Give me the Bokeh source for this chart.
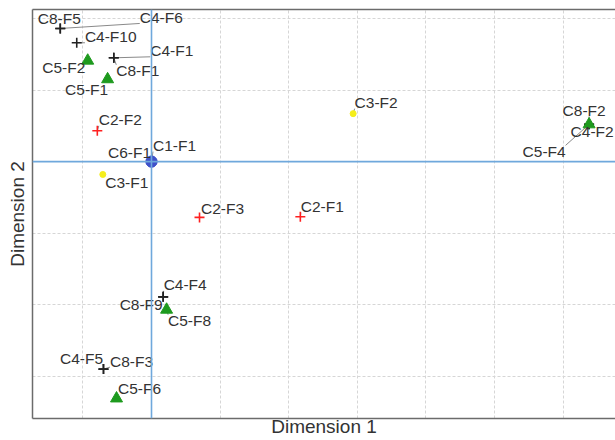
from bokeh.plotting import figure
from bokeh.models import ColumnDataSource, Span, FixedTicker, LinearAxis, Range1d
from bokeh.core.properties import value
from bokeh.embed import file_html
from bokeh.resources import INLINE

# ---- data ----
names = ["C8-F5", "C4-F6", "C4-F10", "C4-F1", "C8-F1", "C5-F2", "C5-F1", "C2-F2",
         "C6-F1", "C1-F1", "C3-F1", "C2-F3", "C2-F1", "C3-F2", "C8-F2", "C4-F2",
         "C5-F4", "C4-F4", "C8-F9", "C5-F8", "C4-F5", "C8-F3", "C5-F6"]
dim1 = [-1.33, -1.33, -1.09, -0.55, -0.55, -0.93, -0.64, -0.79,
        0.0, 0.0, -0.71, 0.70, 2.17, 2.94, 6.38, 6.38,
        6.38, 0.17, 0.17, 0.22, -0.70, -0.70, -0.51]
dim2 = [1.86, 1.86, 1.66, 1.45, 1.45, 1.41, 1.15, 0.43,
        0.0, 0.0, -0.18, -0.78, -0.77, 0.67, 0.52, 0.52,
        0.52, -1.89, -1.89, -2.07, -2.90, -2.90, -3.31]
x_ticks = [-1, 0, 1, 2, 3, 4, 5, 6]
y_ticks = [-3, -2, -1, 0, 1, 2]

# ---- label placement (screen pixel offsets from the point: right, down) ----
label_dx = [-1, 101, 34, 58, 24, -24, -21, 23, -22, 23, 24, 23, 22, 23, -5, 3,
            -45, 22, -22, 23, -22, 28, 23]
label_dy = [-10, -11, -6, -7, 13, 7, 10, -11, -9, -16, 8, -9, -10, -11, -14, 7,
            27, -12, 8, 11, -11, -8, -10]

X0, X1 = -1.735, 6.765
Y0, Y1 = -3.59, 2.125
FW, FH = 583, 409
sx = FW / (X1 - X0)
sy = FH / (Y1 - Y0)

styles = {
    "C4": ("cross", "#222222", 10),
    "C8": ("cross", "#222222", 10),
    "C2": ("cross", "#ff2020", 10),
    "C5": ("triangle", "#1e9a1e", 12),
    "C3": ("circle", "#f5ee1a", 6),
    "C1": ("circle", "#3f51c9", 11),
    "C6": ("circle", "#3f51c9", 11),
}
order = ["C4", "C8", "C2", "C3", "C1", "C6", "C5"]

p = figure(width=615, height=440, output_backend="svg", toolbar_location=None,
           x_range=Range1d(X0, X1), y_range=Range1d(Y0, Y1),
           min_border_left=32, min_border_right=0, min_border_top=9,
           min_border_bottom=22)
p.outline_line_color = None
p.background_fill_color = "white"

# leader lines
lx, ly, sxs, sys_, exs, eys = [], [], [], [], [], []
for n, x, y, dx, dy in zip(names, dim1, dim2, label_dx, label_dy):
    lx.append(x + dx / sx)
    ly.append(y - dy / sy)
    hw = len(n) * 8.6 / 2
    hh = 6
    cx = min(max(0, dx - hw), dx + hw)
    cy = min(max(0, dy - hh), dy + hh)
    if (cx * cx + cy * cy) ** 0.5 > 4:
        sxs.append(x); sys_.append(y)
        exs.append(x + cx / sx); eys.append(y - cy / sy)

p.xgrid.ticker = FixedTicker(ticks=[t for t in x_ticks if t != 0])
p.ygrid.ticker = FixedTicker(ticks=[t for t in y_ticks if t != 0])
for g in (p.xgrid, p.ygrid):
    g.grid_line_color = "#d6d6d6"
    g.grid_line_dash = "3 2"
    g.grid_line_width = 1

p.add_layout(Span(location=0, dimension="height", line_color="#6fa8dc", line_width=1.6))
p.add_layout(Span(location=0, dimension="width", line_color="#6fa8dc", line_width=1.6))

p.segment(sxs, sys_, exs, eys, line_color="#8a8a8a", line_width=1)

for grp in order:
    idx = [i for i, n in enumerate(names) if n.startswith(grp + "-")]
    if not idx:
        continue
    marker, color, size = styles[grp]
    src = ColumnDataSource(dict(x=[dim1[i] for i in idx], y=[dim2[i] for i in idx]))
    if marker == "cross":
        p.scatter("x", "y", source=src, marker="cross", size=size, line_color=color,
                  line_width=1.6)
    else:
        p.scatter("x", "y", source=src, marker=marker, size=size, fill_color=color,
                  line_color=color)

tsrc = ColumnDataSource(dict(x=lx, y=ly, t=names))
p.text("x", "y", text="t", source=tsrc, text_font=value("Liberation Sans"),
       text_font_size="15.5px", text_color="#333333", text_align="center",
       text_baseline="middle")

# axes
for ax in (p.xaxis[0], p.yaxis[0]):
    ax.ticker = FixedTicker(ticks=[])
    ax.major_tick_line_color = None
    ax.minor_tick_line_color = None
    ax.major_label_text_font_size = "0px"
    ax.major_label_standoff = 0
    ax.major_tick_out = 0
    ax.axis_line_color = "#6b6b6b"
    ax.axis_line_width = 1.5
    ax.axis_label_text_font = "Liberation Sans"
    ax.axis_label_text_font_size = "19px"
    ax.axis_label_text_font_style = "normal"
    ax.axis_label_text_color = "#333333"
p.xaxis.axis_label = "Dimension 1"
p.yaxis.axis_label = "Dimension 2"
p.xaxis.axis_label_standoff = -3
p.yaxis.axis_label_standoff = 5

top = LinearAxis(ticker=FixedTicker(ticks=[]), major_tick_line_color=None,
                 minor_tick_line_color=None, major_label_text_font_size="0px",
                 major_label_standoff=0, major_tick_out=0,
                 axis_line_color="#6b6b6b", axis_line_width=1.5)
p.add_layout(top, "above")

open("out.html", "w").write(file_html(p, INLINE))
